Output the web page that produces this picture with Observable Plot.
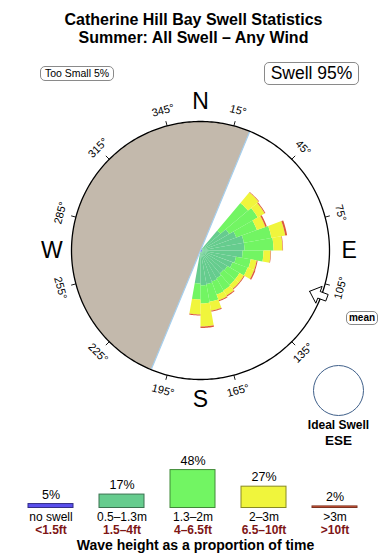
<!DOCTYPE html>
<html><head><meta charset="utf-8">
<script src="https://cdn.jsdelivr.net/npm/d3@7"></script>
<script src="https://cdn.jsdelivr.net/npm/@observablehq/plot@0.6"></script>
<style>
body{margin:0;background:#fff;font-family:"Liberation Sans",Arial,Helvetica,sans-serif;color:#000;}
#page{position:relative;width:390px;height:560px;overflow:hidden;}
.abs{position:absolute;}
#title{left:0;top:11px;width:387px;text-align:center;font-weight:bold;font-size:16px;line-height:18px;}
.box{position:absolute;border:1px solid #8a8a8a;border-radius:5px;background:#fff;text-align:center;box-sizing:border-box;white-space:nowrap;}
</style></head><body>
<div id="page">
  <div id="rose" class="abs" style="left:0;top:55px;"></div>
  <div id="legend" class="abs" style="left:0;top:455px;"></div>
  <div id="title" class="abs">Catherine Hill Bay Swell Statistics<br>Summer: All Swell – Any Wind</div>
  <div id="small" class="box" style="left:40px;top:66px;width:74px;height:15px;font-size:10.5px;line-height:13px;"></div>
  <div id="swell" class="box" style="left:264px;top:62px;width:95px;height:23px;font-size:17.5px;line-height:21px;"></div>
  <div class="box" style="left:346px;top:311px;width:32px;height:14px;font-size:10px;line-height:12px;font-weight:bold;">mean</div>
  <div class="abs" style="left:313px;top:365px;width:51px;height:51px;border:1px solid #40608a;border-radius:50%;box-sizing:border-box"></div>
  <div class="abs" style="left:288px;top:418px;width:101px;text-align:center;font-weight:bold;font-size:12px;line-height:15px;">Ideal Swell</div>
  <div class="abs" id="ideal" style="left:288px;top:433px;width:101px;text-align:center;font-weight:bold;font-size:13.5px;line-height:16px;"></div>
  <div class="abs" style="left:0;top:537px;width:391px;text-align:center;font-weight:bold;font-size:14px;line-height:16px;">Wave height as a proportion of time</div>
</div>
<script>
// ---------- data ----------
// direction bins (start angle, degrees clockwise from north), 10° wide
const binStart = [40, 50, 60, 70, 80, 90, 100, 110, 120, 130, 140, 150, 160, 170, 180];
const binWidth = 10;
// radial contribution of each height band per bin (units: circle radius = 100)
const noSwell  = [1.2, 1.2, 1.2, 1.2, 1.2, 1.2, 1.2, 1.2, 1.2, 1.2, 1.2, 1.2, 1.2, 1.2, 1.2];
const band1    = [19.0, 24.4, 28.3, 32.9, 32.9, 31.4, 26.7, 25.2, 22.8, 22.1, 23.6, 24.4, 25.2, 25.9, 24.4];
const band2    = [27.9, 25.6, 17.0, 21.7, 22.5, 16.2, 11.6, 12.4, 10.9, 11.6, 10.9, 10.8, 13.9, 14.0, 12.4];
const band3    = [10.8, 6.2, 7.0, 10.9, 7.0, 5.5, 4.7, 5.4, 3.9, 3.9, 4.6, 4.7, 7.0, 17.8, 11.6];
const band4    = [0.4, 0.7, 1.2, 1.5, 0.4, 0.4, 0.8, 1.1, 0.7, 0.7, 0.8, 0.8, 0.8, 1.2, 0.8];
const bandSeries = [noSwell, band1, band2, band3, band4];

// legend
const legendLabels = ["no swell", "0.5–1.3m", "1.3–2m", "2–3m", ">3m"];
const legendFeet   = ["<1.5ft", "1.5–4ft", "4–6.5ft", "6.5–10ft", ">10ft"];
const legendPct    = [5, 17, 48, 27, 2];
const bandColors   = ["#5a50ee", "#66cc8e", "#72f563", "#f0f53c", "#dc5a3c"];

// compass
const tickAngles = [15, 45, 75, 105, 135, 165, 195, 225, 255, 285, 315, 345];
const cardinals  = [{t:"N", a:0}, {t:"E", a:90}, {t:"S", a:180}, {t:"W", a:270}];
const landFrom = 202.5, landTo = 382.5;   // land sector (coastline bearing)
const meanDir = 110.5;
const idealSwell = "ESE";

// ---------- build ----------
const U = 1.29;            // px per radial unit
const W = 390, H = 400, CX = 200, CY = 195;
const pt = (theta, r) => { const a = theta * Math.PI / 180; return {x: r * Math.sin(a), y: r * Math.cos(a)}; };
const arc = (a0, a1, r, step = 1) => { const n = Math.max(1, Math.round(Math.abs(a1 - a0) / step)); return d3.range(n + 1).map(i => pt(a0 + (a1 - a0) * i / n, r)); };

const wedgeMarks = bandSeries.map((series, b) => {
  const pts = [];
  binStart.forEach((a0, i) => {
    let r0 = 0;
    for (let k = 0; k < b; k++) r0 += bandSeries[k][i];
    const r1 = r0 + series[i];
    const a1 = a0 + binWidth;
    const poly = [...arc(a0, a1, r1), ...arc(a1, a0, r0)];
    poly.push(poly[0]);
    poly.forEach(p => pts.push({...p, id: i}));
  });
  return Plot.line(pts, {x: "x", y: "y", z: "id", fill: bandColors[b], stroke: "none"});
});

const land = [{x: 0, y: 0}, ...arc(landFrom, landTo, 100), {x: 0, y: 0}];
const coast = [pt(landFrom, 100), {x: 0, y: 0}, pt(landTo, 100)];
const ring = arc(0, 360, 100);

const arrowLocal = [[116.5, 0], [126.5, 9], [126.5, 3.5], [135, 3.5], [135, -3.5], [126.5, -3.5], [126.5, -9], [116.5, 0]];
const ma = meanDir * Math.PI / 180;
const arrow = arrowLocal.map(([u, v]) => ({x: (u * Math.sin(ma) + v * Math.cos(ma)) / U, y: (u * Math.cos(ma) - v * Math.sin(ma)) / U}));

const rose = Plot.plot({
  width: W, height: H, margin: 0,
  x: {domain: [-CX / U, (W - CX) / U], range: [0, W], axis: null},
  y: {domain: [-(H - CY) / U, CY / U], range: [H, 0], axis: null},
  style: {fontFamily: "'Liberation Sans', Arial, Helvetica, sans-serif", background: "transparent"},
  marks: [
    Plot.line(land, {x: "x", y: "y", fill: "#c3b9ac", stroke: "none"}),
    ...wedgeMarks,
    Plot.line(coast, {x: "x", y: "y", stroke: "#a6cfee", strokeWidth: 1.2}),
    Plot.line(ring, {x: "x", y: "y", stroke: "#000", strokeWidth: 1.3}),
    Plot.link(tickAngles, {x1: a => pt(a, 100).x, y1: a => pt(a, 100).y, x2: a => pt(a, 103.8).x, y2: a => pt(a, 103.8).y, stroke: "#000", strokeWidth: 0.9}),
    Plot.text(tickAngles, {x: a => pt(a, 112.4).x, y: a => pt(a, 112.4).y, text: a => a + "°", rotate: a => ((a + 90) % 180) - 90, fontSize: 11, fill: "#000"}),
    Plot.text(cardinals, {x: d => pt(d.a, 115.3).x, y: d => pt(d.a, 115.3).y, text: "t", fontSize: 23, fill: "#000"}),
    Plot.line(arrow, {x: "x", y: "y", fill: "#fff", stroke: "#000", strokeWidth: 1})
  ]
});
document.getElementById("rose").appendChild(rose);

const legendData = legendLabels.map((l, i) => ({label: l, feet: legendFeet[i], pct: legendPct[i], color: bandColors[i], edge: d3.color(bandColors[i]).darker(1.6).formatHex()}));
const legend = Plot.plot({
  width: W, height: 85, margin: 0,
  x: {type: "band", domain: legendLabels, range: [15.5, 370.5], paddingInner: 0.366, paddingOuter: 0.183, axis: null},
  y: {domain: [0, 60], range: [52.5, 5.1], axis: null},
  color: {type: "identity"},
  style: {fontFamily: "'Liberation Sans', Arial, Helvetica, sans-serif", background: "transparent"},
  marks: [
    Plot.barY(legendData, {x: "label", y: "pct", fill: "color", stroke: "edge", strokeWidth: 1}),
    Plot.text(legendData, {x: "label", y: "pct", text: d => d.pct + "%", dy: -9.5, fontSize: 12.5, fill: "#000"}),
    Plot.text(legendData, {x: "label", y: () => 0, text: "label", dy: 9.5, fontSize: 12, fill: "#000"}),
    Plot.text(legendData, {x: "label", y: () => 0, text: "feet", dy: 22.5, fontSize: 12, fontWeight: "bold", fill: "#7e1616"})
  ]
});
document.getElementById("legend").appendChild(legend);

document.getElementById("small").textContent = "Too Small " + legendPct[0] + "%";
document.getElementById("swell").textContent = "Swell " + (100 - legendPct[0]) + "%";
document.getElementById("ideal").textContent = idealSwell;
</script>
</body></html>
